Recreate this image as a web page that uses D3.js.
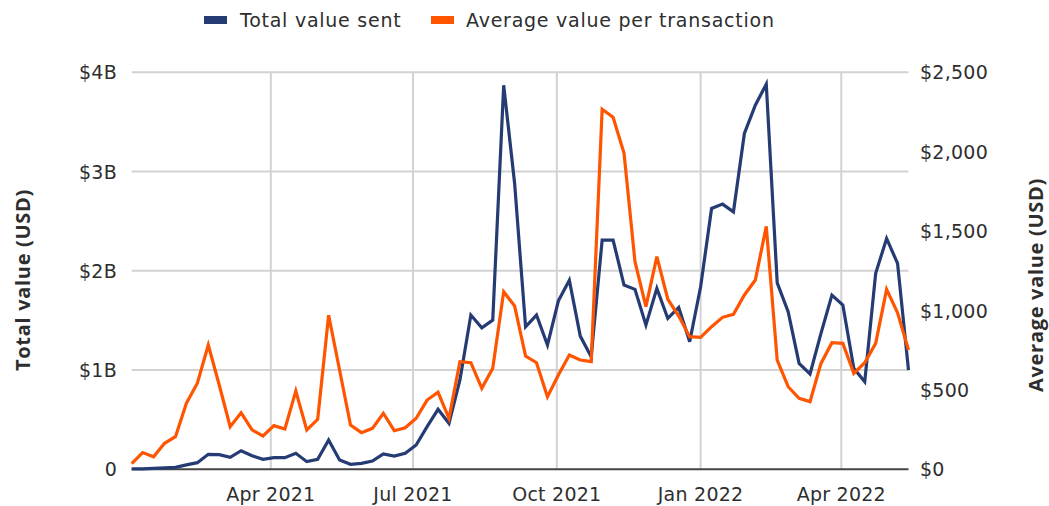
<!DOCTYPE html>
<html>
<head>
<meta charset="utf-8">
<script src="https://cdn.jsdelivr.net/npm/d3@7"></script>
<style>
  html, body { margin: 0; padding: 0; background: #fff; }
  svg { display: block; font-family: "DejaVu Sans", "Open Sans", sans-serif; }
</style>
</head>
<body>
<svg id="chart" width="1049" height="506"></svg>
<script>
// Weekly series, first week ending 2 Jan 2021, last week ending 14 May 2022
const firstWeek = "2021-01-02";
const lastWeek = "2022-05-14";

// Total value sent per week, in billions of USD (left axis)
const totalValueB = [
  0.005, 0.005, 0.01, 0.015, 0.02, 0.045, 0.067, 0.151, 0.147, 0.121,
  0.187, 0.137, 0.10, 0.117, 0.117, 0.161, 0.077, 0.10, 0.295, 0.094,
  0.05, 0.06, 0.083, 0.154, 0.134, 0.161, 0.245, 0.43, 0.604, 0.463,
  0.90, 1.554, 1.426, 1.504, 3.87, 2.88, 1.436, 1.554, 1.252, 1.698,
  1.906, 1.342, 1.134, 2.31, 2.31, 1.856, 1.813, 1.453, 1.823, 1.52,
  1.631, 1.285, 1.839, 2.628, 2.672, 2.594, 3.384, 3.669, 3.88, 1.879,
  1.587, 1.067, 0.96, 1.37, 1.755, 1.655, 1.017, 0.882, 1.974, 2.326,
  2.074, 1.0
];

// Average value per transaction, USD (right axis)
const avgValue = [
  35, 105, 79, 164, 205, 416, 542, 783, 531, 268,
  356, 248, 210, 275, 254, 493, 248, 315, 970, 625,
  279, 231, 258, 353, 243, 262, 321, 436, 485, 321,
  678, 671, 510, 636, 1118, 1028, 713, 671, 457, 594,
  720, 688, 678, 2267, 2217, 1990, 1307, 1024, 1339, 1071,
  965, 835, 831, 898, 957, 976, 1098, 1192, 1530, 688,
  520, 447, 426, 667, 797, 793, 604, 671, 793, 1133,
  986, 751
];

const leftTicks = [0, 1, 2, 3, 4];
const leftTickLabels = ["0", "$1B", "$2B", "$3B", "$4B"];
const rightTicks = [0, 500, 1000, 1500, 2000, 2500];
const rightTickLabels = ["$0", "$500", "$1,000", "$1,500", "$2,000", "$2,500"];
const seriesNames = ["Total value sent", "Average value per transaction"];
const seriesColors = ["#253b73", "#ff5400"];

const parse = d3.utcParse("%Y-%m-%d");
const weeks = d3.utcDay.range(parse(firstWeek), d3.utcDay.offset(parse(lastWeek), 1), 7);

const svg = d3.select("#chart");
const plot = { left: 131.7, right: 908.5, top: 72.3, bottom: 469.3 };

const x = d3.scaleUtc()
  .domain([weeks[0], weeks[weeks.length - 1]])
  .range([plot.left, plot.right]);
const yL = d3.scaleLinear().domain([0, 4]).range([plot.bottom, plot.top]);
const yR = d3.scaleLinear().domain([0, 2500]).range([plot.bottom, plot.top]);

const textColor = "#2e2e2e";
const gridColor = "#d2d2d2";
const tickFont = { size: 19, spacing: 0.25 };

// horizontal gridlines
svg.append("g")
  .selectAll("line")
  .data(leftTicks.filter(d => d > 0))
  .join("line")
  .attr("x1", plot.left).attr("x2", plot.right)
  .attr("y1", d => yL(d)).attr("y2", d => yL(d))
  .attr("stroke", gridColor).attr("stroke-width", 2);

// vertical gridlines at quarter starts
const quarterTicks = x.ticks(d3.utcMonth.every(3));
svg.append("g")
  .selectAll("line")
  .data(quarterTicks)
  .join("line")
  .attr("x1", d => x(d)).attr("x2", d => x(d))
  .attr("y1", plot.top).attr("y2", plot.bottom)
  .attr("stroke", gridColor).attr("stroke-width", 2);

// baseline
svg.append("line")
  .attr("x1", plot.left).attr("x2", plot.right)
  .attr("y1", plot.bottom).attr("y2", plot.bottom)
  .attr("stroke", "#444").attr("stroke-width", 2);

// x-axis labels
const fmt = d3.utcFormat("%b %Y");
svg.append("g")
  .selectAll("text")
  .data(quarterTicks)
  .join("text")
  .attr("x", d => x(d)).attr("y", 501)
  .attr("text-anchor", "middle")
  .attr("font-size", tickFont.size).attr("letter-spacing", tickFont.spacing)
  .attr("fill", textColor)
  .text(d => fmt(d));

// left axis labels
svg.append("g")
  .selectAll("text")
  .data(leftTicks)
  .join("text")
  .attr("x", 117).attr("y", d => yL(d) + 7)
  .attr("text-anchor", "end")
  .attr("font-size", tickFont.size).attr("letter-spacing", tickFont.spacing)
  .attr("fill", textColor)
  .text((d, i) => leftTickLabels[i]);

// right axis labels
svg.append("g")
  .selectAll("text")
  .data(rightTicks)
  .join("text")
  .attr("x", 920).attr("y", d => yR(d) + 7)
  .attr("text-anchor", "start")
  .attr("font-size", tickFont.size).attr("letter-spacing", tickFont.spacing)
  .attr("fill", textColor)
  .text((d, i) => rightTickLabels[i]);

// axis titles
svg.append("text")
  .attr("transform", "translate(30,280) rotate(-90)")
  .attr("text-anchor", "middle")
  .style("font-family", "'Open Sans', sans-serif")
  .attr("font-size", 20).attr("letter-spacing", 0.7)
  .attr("font-weight", 700).attr("fill", textColor)
  .text("Total value (USD)");
svg.append("text")
  .attr("transform", "translate(1043,285) rotate(-90)")
  .attr("text-anchor", "middle")
  .style("font-family", "'Open Sans', sans-serif")
  .attr("font-size", 20).attr("letter-spacing", 0.7)
  .attr("font-weight", 700).attr("fill", textColor)
  .text("Average value (USD)");

// lines
const lineL = d3.line().x((d, i) => x(weeks[i])).y(d => yL(d));
const lineR = d3.line().x((d, i) => x(weeks[i])).y(d => yR(d));

svg.append("path")
  .datum(totalValueB)
  .attr("d", lineL)
  .attr("fill", "none")
  .attr("stroke", seriesColors[0])
  .attr("stroke-width", 3.2)
  .attr("stroke-linejoin", "miter");

svg.append("path")
  .datum(avgValue)
  .attr("d", lineR)
  .attr("fill", "none")
  .attr("stroke", seriesColors[1])
  .attr("stroke-width", 3.2)
  .attr("stroke-linejoin", "miter");

// legend
const legend = svg.append("g");
const legendItems = [{ sx: 204, tx: 240 }, { sx: 431, tx: 466 }];
legendItems.forEach((p, i) => {
  legend.append("rect")
    .attr("x", p.sx).attr("y", 16).attr("width", 23).attr("height", 8)
    .attr("fill", seriesColors[i]);
  legend.append("text")
    .attr("x", p.tx).attr("y", 27)
    .attr("font-size", 19).attr("letter-spacing", 0.75)
    .attr("fill", textColor)
    .text(seriesNames[i]);
});
</script>
</body>
</html>
